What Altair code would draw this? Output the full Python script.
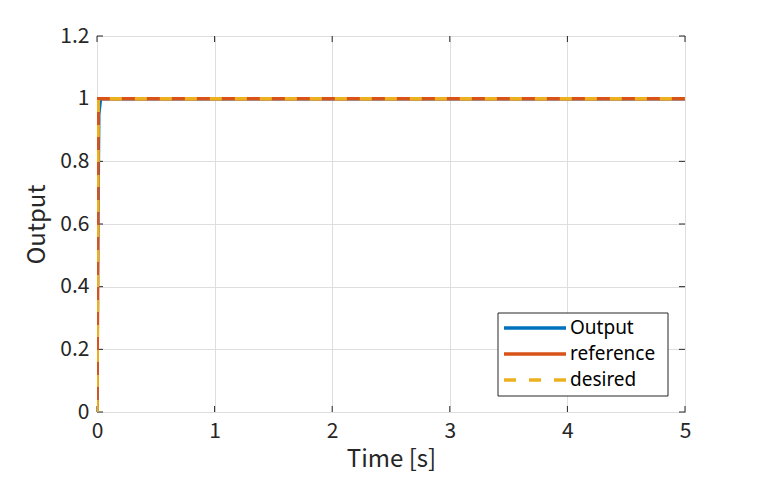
import altair as alt
import pandas as pd

# Data
out_t = [0.0, 0.005, 0.015, 0.03, 0.12, 5.0]
out_y = [0.0, 0.5, 0.95, 1.0, 1.0, 1.0]
ref_t = [0.0, 0.01, 5.0]
ref_y = [0.0, 1.0, 1.0]
des_t = [0.0, 0.01, 5.0]
des_y = [0.0, 1.0, 1.0]

series = ["Output", "reference", "desired"]
colors = ["#0072BD", "#D95319", "#EDB120"]
dashes = [[1, 0], [1, 0], [12, 13]]

x_ticks = [0, 1, 2, 3, 4, 5]
y_ticks = [0, 0.2, 0.4, 0.6, 0.8, 1.0, 1.2]

rows = []
for name, ts, ys in [("Output", out_t, out_y), ("reference", ref_t, ref_y), ("desired", des_t, des_y)]:
    for i, (t, y) in enumerate(zip(ts, ys)):
        rows.append({"series": name, "t": t, "y": y, "order": i})
df = pd.DataFrame(rows)

W, H = 588, 376
FONT = "Noto Sans CJK JP"
tick_col = "#262626"

xs = alt.Scale(domain=[0, 5], nice=False)
ys_ = alt.Scale(domain=[0, 1.2], nice=False)

lines = alt.Chart(df).mark_line(strokeWidth=3.5, clip=True).encode(
    x=alt.X("t:Q", scale=xs, title="Time [s]",
            axis=alt.Axis(values=x_ticks, format="d", grid=True, labelFlush=False)),
    y=alt.Y("y:Q", scale=ys_, title="Output",
            axis=alt.Axis(values=y_ticks, labelFlush=False,
                          labelExpr="datum.value == 0 ? '0' : (datum.value == 1 ? '1' : format(datum.value, '.1f'))", grid=True)),
    color=alt.Color("series:N", scale=alt.Scale(domain=series, range=colors), legend=None),
    strokeDash=alt.StrokeDash("series:N", scale=alt.Scale(domain=series, range=dashes), legend=None),
    order="order:Q",
    detail="series:N",
)

xt = pd.DataFrame({"v": x_ticks})
yt = pd.DataFrame({"v": y_ticks})
xb = alt.Chart(xt).mark_rule(color=tick_col, strokeWidth=1).encode(
    x=alt.X("v:Q", scale=xs), y=alt.value(H), y2=alt.value(H - 6))
xtop = alt.Chart(xt).mark_rule(color=tick_col, strokeWidth=1).encode(
    x=alt.X("v:Q", scale=xs), y=alt.value(0), y2=alt.value(6))
yl = alt.Chart(yt).mark_rule(color=tick_col, strokeWidth=1).encode(
    y=alt.Y("v:Q", scale=ys_), x=alt.value(0), x2=alt.value(6))
yr = alt.Chart(yt).mark_rule(color=tick_col, strokeWidth=1).encode(
    y=alt.Y("v:Q", scale=ys_), x=alt.value(W), x2=alt.value(W - 6))

# Legend (drawn as a box with sample lines and labels)
LX0, LX1, LY0, LY1 = 401, 571, 277, 360
row_y = [292, 318, 344]
one = pd.DataFrame({"k": [0]})
legend_layers = [
    alt.Chart(one).mark_rect(fill="white", stroke=tick_col, strokeWidth=1).encode(
        x=alt.value(LX0), x2=alt.value(LX1), y=alt.value(LY0), y2=alt.value(LY1))
]
for name, col, dash, ry in zip(series, colors, dashes, row_y):
    legend_layers.append(
        alt.Chart(one).mark_rule(color=col, strokeWidth=3.5, strokeDash=dash).encode(
            x=alt.value(LX0 + 6), x2=alt.value(LX0 + 68), y=alt.value(ry))
    )
    legend_layers.append(
        alt.Chart(pd.DataFrame({"label": [name]})).mark_text(
            align="left", baseline="middle", font="Noto Sans", fontSize=19, color="#000000").encode(
            x=alt.value(LX0 + 72), y=alt.value(ry), text="label:N")
    )

chart = alt.layer(xb, xtop, yl, yr, lines, *legend_layers).properties(
    width=W, height=H,
    background="white",
    autosize=alt.AutoSizeParams(type="none"),
    padding={"left": 89, "top": 28, "right": 64, "bottom": 60},
).configure_view(
    stroke=tick_col, strokeWidth=1
).configure_axis(
    domain=False, ticks=False,
    gridColor="#dedede", gridWidth=1,
    labelFont=FONT, labelFontSize=21, labelColor="#262626",
    titleFont=FONT, titleFontSize=24, titleColor="#262626", titleFontWeight="normal",
).configure_axisX(
    labelPadding=8, titlePadding=6,
).configure_axisY(
    labelPadding=8, titlePadding=10,
)

chart.save("out.html", embed_options={"renderer": "svg", "actions": False})
